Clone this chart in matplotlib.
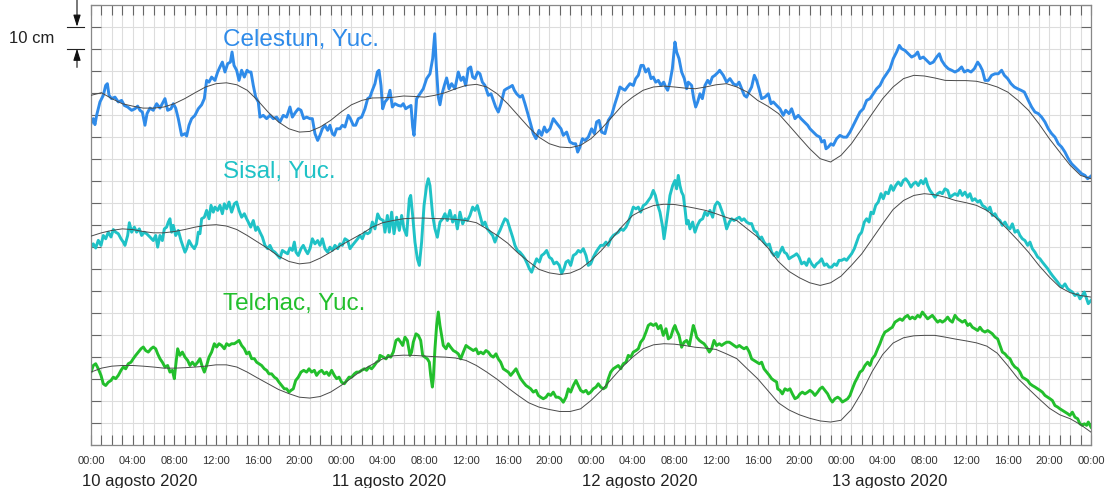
import numpy as np
import matplotlib
matplotlib.use("Agg")
import matplotlib.pyplot as plt
from matplotlib.ticker import MultipleLocator, FixedLocator, NullFormatter
import matplotlib.transforms as mtransforms

plt.rcParams['font.family'] = ['Liberation Sans', 'DejaVu Sans']

# ---------------- data ----------------
time_labels = ["00:00", "04:00", "08:00", "12:00", "16:00", "20:00"] * 4 + ["00:00"]
date_labels = ["10 agosto 2020", "11 agosto 2020", "12 agosto 2020", "13 agosto 2020"]
station_names = ["Celestun, Yuc.", "Sisal, Yuc.", "Telchac, Yuc."]

# observed sea level (hour since 10 Aug 00:00, cm on arbitrary stacked offset)
celestun_obs = [
    (0.0, 145.9), (0.22, 148.2), (0.38, 145.5), (0.54, 149.7), (0.86, 155.8), (1.18, 158.8),
    (1.41, 163.3), (1.57, 164.1), (1.73, 158.8), (1.98, 157.3), (2.30, 158.0), (2.62, 155.8),
    (2.94, 156.5), (3.2, 154.2), (3.52, 153.5), (3.90, 152.0), (4.22, 152.7), (4.48, 153.9),
    (4.70, 152.0), (4.93, 151.2), (5.18, 145.2), (5.38, 150.5), (5.66, 153.0), (5.98, 152.0),
    (6.30, 155.0), (6.62, 153.0), (6.94, 155.8), (7.10, 157.3), (7.36, 152.0), (7.68, 152.7),
    (7.90, 155.0), (8.13, 153.0), (8.38, 148.2), (8.70, 140.6), (9.02, 141.4), (9.18, 140.3),
    (9.41, 145.2), (9.66, 148.2), (9.98, 149.7), (10.30, 152.7), (10.62, 154.5), (10.88, 157.3),
    (11.10, 165.6), (11.33, 164.8), (11.58, 167.1), (11.90, 165.6), (12.16, 169.4), (12.38, 171.7),
    (12.61, 173.9), (12.86, 169.4), (13.12, 173.2), (13.38, 173.9), (13.54, 178.5), (13.73, 172.4),
    (13.98, 170.2), (14.21, 165.6), (14.46, 170.2), (14.72, 167.1), (14.98, 170.2), (15.17, 169.4),
    (15.36, 169.4), (15.58, 163.3), (15.81, 158.0), (16.06, 155.8), (16.22, 148.9), (16.54, 149.7),
    (16.86, 148.2), (17.18, 149.7), (17.50, 148.2), (17.82, 148.9), (18.14, 146.7), (18.46, 149.7),
    (18.78, 148.9), (19.10, 153.5), (19.33, 148.9), (19.65, 151.2), (19.90, 152.7), (20.16, 152.0),
    (20.42, 148.2), (20.70, 148.9), (21.02, 148.2), (21.25, 148.2), (21.50, 141.4), (21.76, 138.3),
    (21.98, 140.6), (22.21, 143.6), (22.46, 145.2), (22.72, 142.9), (22.94, 145.2), (23.17, 141.4),
    (23.36, 140.6), (23.58, 143.6), (23.90, 143.6), (24.13, 145.2), (24.38, 144.4), (24.70, 149.7),
    (24.90, 148.2), (25.18, 145.2), (25.41, 145.2), (25.66, 148.2), (25.98, 148.9), (26.30, 152.7),
    (26.56, 157.3), (26.78, 158.0), (27.01, 161.1), (27.26, 164.1), (27.49, 169.4), (27.65, 170.2),
    (27.84, 163.3), (28.0, 152.7), (28.22, 155.8), (28.48, 157.3), (28.70, 161.1), (28.93, 153.5),
    (29.18, 155.0), (29.50, 154.2), (29.76, 153.9), (29.98, 155.0), (30.21, 152.7), (30.46, 153.5),
    (30.72, 154.2), (30.88, 144.4), (31.01, 140.6), (31.26, 157.3), (31.58, 159.5), (31.9, 161.8),
    (32.22, 166.4), (32.54, 168.6), (32.8, 175.5), (33.0, 186.8), (33.15, 172.0), (33.34, 158.0),
    (33.5, 154.5), (33.66, 158.8), (33.92, 163.3), (34.14, 166.7), (34.37, 161.8), (34.62, 164.1),
    (34.94, 161.8), (35.26, 169.4), (35.52, 165.6), (35.74, 167.1), (35.97, 163.3), (36.22, 170.9),
    (36.45, 171.7), (36.64, 167.1), (36.86, 166.4), (37.12, 169.4), (37.34, 168.6), (37.57, 164.8),
    (37.82, 163.3), (38.14, 158.8), (38.40, 159.5), (38.62, 156.5), (38.85, 153.5), (39.10, 151.2),
    (39.36, 155.0), (39.68, 161.1), (39.90, 161.8), (40.22, 162.6), (40.45, 163.3), (40.64, 161.1),
    (40.86, 159.5), (41.18, 158.0), (41.41, 158.8), (41.66, 155.0), (41.98, 149.7), (42.24, 145.2),
    (42.46, 141.4), (42.72, 139.1), (43.01, 142.9), (43.26, 140.6), (43.52, 144.4), (43.74, 142.1),
    (44.06, 143.6), (44.38, 148.2), (44.61, 146.7), (44.86, 145.2), (45.12, 143.6), (45.34, 140.6),
    (45.66, 142.1), (45.98, 137.6), (46.30, 136.8), (46.53, 136.8), (46.72, 133.0), (46.94, 135.3),
    (47.17, 139.1), (47.42, 138.3), (47.74, 139.8), (48.06, 143.6), (48.32, 141.4), (48.54, 146.7),
    (48.77, 147.4), (49.02, 142.1), (49.34, 141.4), (49.66, 147.4), (49.98, 149.7), (50.30, 155.0),
    (50.56, 158.8), (50.78, 162.6), (51.01, 161.8), (51.26, 161.1), (51.49, 162.6), (51.74, 164.1),
    (52.06, 163.3), (52.29, 166.4), (52.54, 167.9), (52.80, 172.4), (53.02, 172.4), (53.25, 169.4),
    (53.50, 170.9), (53.76, 166.4), (53.98, 167.1), (54.21, 164.8), (54.46, 165.6), (54.72, 163.3),
    (54.98, 164.8), (55.17, 162.6), (55.36, 161.1), (55.58, 164.8), (55.81, 170.9), (55.94, 177.0),
    (56.06, 183.0), (56.22, 178.5), (56.45, 175.5), (56.70, 169.4), (56.96, 166.4), (57.18, 161.8),
    (57.34, 164.8), (57.66, 163.3), (57.86, 157.3), (58.05, 153.5), (58.24, 155.8), (58.46, 159.5),
    (58.69, 157.3), (58.94, 163.3), (59.20, 165.6), (59.42, 164.1), (59.65, 167.1), (59.90, 167.9),
    (60.22, 169.4), (60.35, 170.2), (60.70, 167.9), (61.02, 164.8), (61.34, 166.4), (61.66, 164.1),
    (61.98, 163.3), (62.21, 164.8), (62.46, 161.8), (62.72, 158.8), (62.94, 158.0), (63.17, 160.3),
    (63.42, 162.6), (63.68, 167.9), (63.90, 165.6), (64.13, 161.8), (64.38, 157.3), (64.70, 158.0),
    (65.02, 159.5), (65.28, 155.0), (65.50, 155.8), (65.82, 154.2), (66.14, 152.7), (66.46, 149.7),
    (66.69, 152.0), (67.01, 150.5), (67.26, 152.7), (67.58, 148.2), (67.90, 149.7), (68.16, 148.2),
    (68.48, 146.7), (68.80, 145.2), (69.02, 143.6), (69.34, 142.1), (69.66, 140.6), (69.98, 139.8),
    (70.14, 137.6), (70.40, 138.3), (70.56, 134.5), (70.78, 135.3), (71.04, 136.8), (71.26, 136.1),
    (71.58, 139.1), (71.90, 140.6), (72.22, 139.8), (72.54, 139.8), (72.86, 142.1), (73.18, 145.2),
    (73.50, 148.2), (73.82, 151.2), (74.14, 152.7), (74.46, 156.5), (74.78, 157.3), (75.10, 159.5),
    (75.42, 161.8), (75.74, 163.3), (76.06, 166.4), (76.38, 168.6), (76.70, 170.9), (77.02, 175.5),
    (77.34, 178.5), (77.60, 181.5), (77.82, 180.0), (78.14, 179.2), (78.46, 177.7), (78.78, 176.2),
    (79.10, 177.0), (79.36, 178.5), (79.58, 175.5), (79.90, 176.2), (80.22, 174.7), (80.54, 173.2),
    (80.86, 173.9), (81.18, 176.2), (81.44, 177.7), (81.66, 174.7), (81.98, 172.4), (82.30, 170.9),
    (82.62, 170.2), (82.94, 169.4), (83.26, 170.2), (83.58, 171.7), (83.84, 169.4), (84.16, 170.2),
    (84.48, 169.4), (84.80, 170.9), (85.12, 173.9), (85.34, 172.4), (85.57, 170.2), (85.82, 165.6),
    (86.14, 165.6), (86.46, 167.9), (86.78, 168.6), (87.10, 168.6), (87.42, 170.2), (87.68, 167.9),
    (88.0, 166.4), (88.32, 164.1), (88.64, 162.6), (88.96, 161.8), (89.28, 161.1), (89.60, 160.3),
    (89.98, 156.5), (90.30, 153.5), (90.62, 151.2), (90.94, 150.5), (91.26, 148.9), (91.58, 146.7),
    (91.90, 143.6), (92.22, 141.4), (92.54, 139.8), (92.86, 136.8), (93.18, 135.3), (93.50, 133.0),
    (93.82, 130.0), (94.14, 127.7), (94.46, 126.2), (94.78, 124.7), (95.10, 123.2), (95.42, 122.4),
    (95.68, 120.9), (96.0, 122.1),
]

sisal_obs = [
    (0.0, 89.8), (0.22, 91.3), (0.45, 89.4), (0.70, 92.9), (0.96, 90.6), (1.18, 95.1), (1.41, 93.6),
    (1.66, 96.6), (1.92, 94.4), (2.14, 97.8), (2.37, 96.6), (2.62, 95.9), (2.88, 93.6), (3.10, 92.1),
    (3.26, 90.6), (3.52, 95.1), (3.68, 100.9), (3.90, 96.6), (4.16, 98.9), (4.38, 96.6), (4.64, 98.1),
    (4.86, 95.1), (5.12, 96.6), (5.34, 95.9), (5.66, 94.4), (5.98, 92.8), (6.21, 95.1), (6.40, 89.8),
    (6.62, 95.1), (6.85, 92.8), (7.04, 98.1), (7.26, 98.9), (7.42, 101.2), (7.58, 102.7), (7.74, 96.6),
    (7.90, 99.7), (8.13, 95.1), (8.38, 97.4), (8.64, 92.8), (8.86, 89.8), (9.02, 87.5), (9.18, 89.1),
    (9.41, 92.8), (9.66, 90.6), (9.92, 89.1), (10.14, 91.3), (10.30, 96.6), (10.46, 95.9), (10.62, 102.7),
    (10.88, 103.4), (11.10, 106.5), (11.33, 102.7), (11.52, 108.8), (11.74, 105.7), (11.90, 108.0),
    (12.16, 106.5), (12.38, 108.8), (12.61, 105.0), (12.80, 109.5), (13.02, 107.2), (13.25, 110.3),
    (13.50, 105.7), (13.76, 109.5), (13.98, 110.3), (14.21, 106.5), (14.46, 103.4), (14.72, 105.0),
    (14.94, 102.7), (15.10, 101.2), (15.33, 98.9), (15.58, 101.9), (15.81, 97.4), (16.0, 98.9),
    (16.22, 96.6), (16.45, 94.4), (16.70, 90.6), (16.96, 89.1), (17.18, 90.6), (17.41, 88.3),
    (17.66, 87.5), (17.92, 86.0), (18.14, 84.8), (18.37, 88.3), (18.62, 87.5), (18.88, 86.8),
    (19.10, 89.4), (19.33, 88.3), (19.52, 92.1), (19.68, 87.5), (19.90, 86.0), (20.16, 89.1),
    (20.38, 90.6), (20.61, 88.3), (20.80, 86.8), (21.02, 89.1), (21.25, 93.6), (21.50, 91.3),
    (21.76, 92.8), (21.98, 90.6), (22.21, 93.6), (22.46, 89.1), (22.72, 87.5), (22.94, 89.8),
    (23.17, 88.3), (23.42, 90.6), (23.68, 89.1), (23.90, 91.3), (24.13, 90.6), (24.38, 93.6),
    (24.64, 92.8), (24.86, 89.1), (25.09, 90.6), (25.34, 92.1), (25.60, 93.6), (25.82, 95.1),
    (26.05, 93.6), (26.30, 96.6), (26.56, 95.9), (26.78, 96.6), (27.01, 101.2), (27.26, 98.1),
    (27.52, 104.9), (27.74, 102.7), (28.06, 101.9), (28.22, 96.6), (28.45, 104.2), (28.64, 96.6),
    (28.86, 105.7), (29.09, 95.9), (29.34, 103.4), (29.6, 97.4), (29.82, 104.2), (30.05, 98.1),
    (30.3, 95.1), (30.56, 111.8), (30.69, 113.3), (30.88, 104.2), (31.1, 92.1), (31.33, 84.5),
    (31.52, 81.5), (31.74, 92.1), (31.97, 108.7), (32.22, 117.8), (32.38, 120.9), (32.54, 117.8),
    (32.8, 104.2), (33.02, 98.1), (33.25, 94.3), (33.5, 101.2), (33.76, 102.7), (33.98, 105.0),
    (34.21, 101.9), (34.46, 106.5), (34.72, 101.2), (34.94, 104.2), (35.17, 98.1), (35.42, 105.7),
    (35.68, 100.4), (35.9, 102.7), (36.13, 101.9), (36.38, 104.2), (36.64, 108.0), (36.86, 106.5),
    (37.09, 108.7), (37.34, 104.2), (37.6, 99.7), (37.82, 101.2), (38.05, 98.1), (38.3, 96.6),
    (38.56, 95.1), (38.78, 92.1), (39.01, 95.1), (39.26, 97.4), (39.52, 100.4), (39.74, 102.7),
    (39.97, 101.9), (40.22, 98.1), (40.48, 94.3), (40.70, 90.6), (40.93, 88.3), (41.18, 87.5),
    (41.44, 86.0), (41.66, 84.5), (41.89, 82.2), (42.08, 80.0), (42.30, 78.4), (42.53, 81.5),
    (42.78, 84.5), (43.04, 83.0), (43.26, 86.0), (43.49, 86.8), (43.74, 88.3), (44.0, 85.2),
    (44.22, 84.5), (44.45, 82.2), (44.70, 83.0), (44.96, 81.5), (45.18, 77.8), (45.41, 80.0),
    (45.60, 83.0), (45.82, 83.7), (46.05, 81.5), (46.30, 86.0), (46.56, 86.8), (46.78, 88.3),
    (47.01, 87.5), (47.26, 89.1), (47.52, 86.0), (47.74, 81.5), (47.97, 82.2), (48.22, 85.2),
    (48.48, 87.5), (48.70, 89.1), (48.93, 90.6), (49.18, 90.6), (49.44, 92.1), (49.66, 90.6),
    (49.89, 93.6), (50.14, 95.1), (50.40, 95.9), (50.62, 96.6), (50.85, 98.1), (51.10, 97.4),
    (51.36, 98.9), (51.58, 101.2), (51.81, 104.2), (52.06, 108.0), (52.32, 107.2), (52.54, 108.0),
    (52.77, 105.7), (53.02, 108.7), (53.28, 109.5), (53.50, 111.0), (53.73, 112.5), (53.98, 115.6),
    (54.18, 113.3), (54.37, 109.5), (54.62, 105.7), (54.88, 98.9), (55.01, 93.6), (55.2, 99.7),
    (55.42, 107.3), (55.58, 113.3), (55.84, 117.8), (56.06, 120.1), (56.22, 116.3), (56.38, 122.4),
    (56.54, 117.8), (56.70, 114.8), (56.86, 113.3), (57.02, 107.3), (57.18, 100.4), (57.34, 101.9),
    (57.50, 98.1), (57.76, 101.2), (57.98, 96.6), (58.21, 99.7), (58.46, 101.9), (58.72, 102.7),
    (58.94, 105.7), (59.17, 104.2), (59.42, 106.5), (59.68, 103.4), (59.90, 108.7), (60.13, 110.3),
    (60.32, 109.5), (60.54, 106.5), (60.77, 103.4), (61.02, 98.1), (61.28, 101.2), (61.50, 102.7),
    (61.73, 101.9), (61.98, 102.7), (62.24, 103.4), (62.46, 101.9), (62.69, 102.7), (62.94, 101.2),
    (63.2, 100.5), (63.42, 100.5), (63.65, 97.4), (63.9, 96.6), (64.16, 93.6), (64.38, 94.4),
    (64.61, 92.1), (64.86, 90.6), (65.12, 91.2), (65.34, 87.5), (65.57, 86.0), (65.82, 87.5),
    (65.92, 85.3), (66.14, 87.5), (66.37, 89.8), (66.56, 87.5), (66.78, 86.8), (67.01, 84.5),
    (67.26, 85.3), (67.52, 86.0), (67.74, 86.8), (67.97, 85.3), (68.22, 82.2), (68.48, 83.0),
    (68.70, 81.5), (68.93, 84.5), (69.18, 82.2), (69.44, 80.7), (69.66, 82.2), (69.89, 83.0),
    (70.14, 84.5), (70.40, 81.5), (70.62, 82.2), (70.85, 80.7), (71.10, 80.7), (71.36, 82.2),
    (71.58, 81.5), (71.81, 83.8), (72.06, 83.8), (72.32, 84.5), (72.54, 83.8), (72.77, 85.3),
    (73.02, 86.8), (73.28, 89.1), (73.50, 92.1), (73.73, 95.1), (73.98, 96.6), (74.24, 101.2),
    (74.46, 102.7), (74.69, 101.2), (74.88, 105.7), (75.10, 105.0), (75.33, 108.8), (75.58, 110.3),
    (75.84, 114.1), (76.06, 111.8), (76.29, 114.8), (76.54, 114.1), (76.80, 117.8), (77.02, 115.6),
    (77.25, 117.8), (77.50, 119.4), (77.76, 117.8), (77.98, 120.1), (78.21, 120.9), (78.46, 119.4),
    (78.72, 117.1), (78.94, 118.6), (79.17, 119.4), (79.42, 117.8), (79.68, 120.1), (79.90, 118.6),
    (80.13, 120.9), (80.32, 117.8), (80.54, 115.6), (80.77, 114.1), (81.02, 112.5), (81.28, 114.1),
    (81.50, 114.8), (81.73, 114.1), (81.98, 116.3), (82.24, 115.6), (82.46, 112.5), (82.69, 113.3),
    (82.94, 114.1), (83.20, 113.3), (83.42, 115.6), (83.65, 113.3), (83.90, 114.8), (84.16, 112.5),
    (84.38, 114.1), (84.61, 111.0), (84.86, 111.8), (85.12, 110.3), (85.34, 111.0), (85.57, 108.8),
    (85.82, 108.0), (86.08, 106.5), (86.30, 108.0), (86.53, 104.2), (86.78, 105.0), (87.04, 102.7),
    (87.26, 101.9), (87.49, 99.7), (87.74, 101.2), (88.0, 98.9), (88.22, 98.1), (88.45, 100.4),
    (88.70, 96.6), (88.96, 97.4), (89.18, 95.1), (89.41, 93.6), (89.66, 92.8), (89.92, 90.6),
    (90.14, 92.1), (90.37, 89.1), (90.62, 87.5), (90.88, 85.3), (91.10, 84.5), (91.33, 83.0),
    (91.58, 81.5), (91.84, 80.0), (92.06, 78.4), (92.29, 76.9), (92.54, 75.4), (92.80, 73.9),
    (93.02, 72.4), (93.25, 71.6), (93.50, 73.1), (93.76, 70.9), (93.98, 70.1), (94.21, 69.4),
    (94.46, 67.8), (94.72, 68.6), (94.94, 66.3), (95.17, 67.8), (95.36, 69.4), (95.58, 66.3),
    (95.74, 64.1), (96.0, 65.6),
]

telchac_obs = [
    (0.0, 33.0), (0.22, 36.0), (0.45, 36.8), (0.70, 34.5), (0.96, 31.5), (1.18, 27.7), (1.41, 26.9),
    (1.66, 28.4), (1.92, 29.2), (2.14, 30.7), (2.37, 30.0), (2.62, 31.5), (2.88, 33.8), (3.10, 35.3),
    (3.33, 34.5), (3.58, 36.8), (3.84, 37.5), (4.06, 39.1), (4.29, 40.6), (4.54, 42.1), (4.80, 43.6),
    (5.02, 44.4), (5.25, 42.8), (5.50, 42.1), (5.76, 43.6), (5.98, 44.4), (6.21, 43.6), (6.40, 41.3),
    (6.62, 39.1), (6.85, 37.5), (7.10, 35.3), (7.36, 36.0), (7.58, 33.0), (7.81, 33.8), (8.0, 30.0),
    (8.13, 36.0), (8.32, 43.6), (8.54, 40.6), (8.77, 42.1), (9.02, 39.8), (9.28, 38.3), (9.50, 36.0),
    (9.73, 37.5), (9.98, 36.0), (10.24, 37.5), (10.46, 39.1), (10.69, 35.3), (10.88, 33.0),
    (11.10, 36.0), (11.33, 39.8), (11.58, 42.1), (11.84, 45.9), (12.06, 44.4), (12.29, 45.9),
    (12.54, 45.1), (12.80, 43.6), (13.02, 45.9), (13.25, 45.1), (13.50, 45.9), (13.76, 45.9),
    (13.98, 46.6), (14.21, 47.4), (14.46, 45.1), (14.72, 43.6), (14.94, 41.3), (15.17, 42.1),
    (15.42, 39.1), (15.68, 39.1), (15.90, 37.5), (16.13, 36.8), (16.38, 36.0), (16.64, 34.5),
    (16.86, 33.8), (17.09, 32.2), (17.34, 32.2), (17.60, 30.7), (17.82, 30.0), (18.05, 28.4),
    (18.30, 26.9), (18.56, 25.4), (18.78, 25.4), (19.01, 23.9), (19.20, 24.7), (19.42, 25.4),
    (19.65, 29.2), (19.90, 30.7), (20.16, 33.0), (20.42, 33.8), (20.70, 33.0), (20.93, 34.5),
    (21.18, 33.0), (21.44, 33.8), (21.66, 31.5), (21.89, 33.0), (22.14, 33.8), (22.40, 32.2),
    (22.62, 33.0), (22.85, 31.5), (23.10, 33.8), (23.36, 31.5), (23.58, 30.0), (23.81, 30.7),
    (24.06, 28.4), (24.32, 27.7), (24.54, 29.2), (24.77, 30.7), (25.02, 30.7), (25.28, 32.2),
    (25.50, 33.0), (25.73, 33.0), (25.98, 33.8), (26.24, 34.5), (26.46, 33.8), (26.69, 35.3),
    (26.94, 34.5), (27.20, 36.0), (27.42, 37.5), (27.65, 38.3), (27.74, 40.6), (28.06, 39.8),
    (28.32, 39.0), (28.54, 40.6), (28.77, 39.8), (29.02, 42.1), (29.28, 47.4), (29.50, 48.1),
    (29.73, 46.6), (29.92, 45.1), (30.14, 48.9), (30.37, 47.4), (30.62, 40.6), (30.78, 42.1),
    (30.94, 46.6), (31.20, 50.4), (31.42, 49.7), (31.65, 47.4), (31.84, 40.6), (32.06, 39.8),
    (32.29, 39.0), (32.48, 37.5), (32.61, 31.5), (32.77, 26.2), (32.86, 30.0), (33.02, 43.6),
    (33.18, 54.2), (33.34, 60.3), (33.50, 54.2), (33.66, 49.7), (33.82, 45.1), (34.08, 43.6),
    (34.30, 45.9), (34.53, 44.3), (34.78, 42.8), (35.04, 42.1), (35.26, 41.3), (35.49, 39.0),
    (35.74, 42.1), (36.0, 45.1), (36.22, 44.3), (36.45, 43.6), (36.70, 42.8), (36.96, 43.6),
    (37.18, 41.3), (37.41, 42.1), (37.66, 41.3), (37.92, 42.8), (38.14, 42.1), (38.37, 40.6),
    (38.62, 39.8), (38.88, 41.3), (39.10, 39.0), (39.33, 37.5), (39.58, 34.5), (39.84, 33.7),
    (40.06, 33.0), (40.29, 31.5), (40.54, 33.0), (40.80, 34.5), (41.02, 32.2), (41.25, 30.0),
    (41.50, 28.4), (41.76, 26.9), (41.98, 26.2), (42.21, 25.4), (42.46, 23.9), (42.72, 24.7),
    (42.94, 22.4), (43.17, 21.6), (43.42, 20.9), (43.68, 21.6), (43.90, 23.1), (44.13, 22.4),
    (44.38, 23.9), (44.64, 21.6), (44.86, 21.6), (45.09, 20.9), (45.34, 19.3), (45.60, 21.6),
    (45.82, 25.4), (46.05, 23.9), (46.30, 26.9), (46.56, 29.2), (46.78, 26.9), (47.01, 24.7),
    (47.26, 23.9), (47.52, 24.7), (47.74, 23.1), (47.97, 23.9), (48.22, 25.4), (48.48, 26.2),
    (48.70, 27.7), (48.93, 26.2), (49.18, 25.4), (49.44, 26.2), (49.66, 30.0), (49.89, 33.0),
    (50.14, 34.5), (50.40, 35.3), (50.62, 36.0), (50.85, 34.5), (51.10, 36.8), (51.36, 37.5),
    (51.58, 40.6), (51.81, 39.8), (52.06, 42.1), (52.32, 42.8), (52.54, 43.6), (52.77, 46.6),
    (53.02, 48.1), (53.28, 51.2), (53.50, 54.2), (53.73, 55.0), (53.98, 54.2), (54.24, 55.0),
    (54.46, 52.7), (54.69, 54.2), (54.94, 49.7), (55.20, 52.7), (55.42, 48.1), (55.65, 48.9),
    (55.90, 52.7), (56.06, 54.2), (56.22, 52.0), (56.45, 49.7), (56.70, 44.3), (56.93, 46.6),
    (57.18, 47.4), (57.44, 45.1), (57.66, 50.4), (57.82, 54.2), (57.98, 52.0), (58.14, 48.9),
    (58.40, 47.4), (58.62, 46.6), (58.85, 45.9), (59.10, 44.3), (59.36, 42.1), (59.58, 43.6),
    (59.81, 47.4), (60.06, 45.1), (60.32, 45.9), (60.54, 45.1), (60.77, 45.9), (61.02, 46.6),
    (61.28, 46.6), (61.50, 45.9), (61.73, 45.1), (61.98, 44.3), (62.24, 45.1), (62.46, 44.3),
    (62.69, 43.6), (62.94, 44.3), (63.20, 42.1), (63.42, 39.0), (63.65, 38.3), (63.90, 37.5),
    (64.16, 36.8), (64.38, 37.5), (64.61, 34.5), (64.86, 33.0), (65.12, 31.5), (65.34, 30.0),
    (65.57, 29.2), (65.82, 28.5), (65.92, 25.4), (66.14, 24.7), (66.37, 23.1), (66.62, 25.4),
    (66.88, 24.7), (67.10, 25.4), (67.33, 23.1), (67.58, 20.9), (67.84, 21.6), (68.06, 23.1),
    (68.29, 23.9), (68.54, 23.1), (68.80, 23.9), (69.02, 24.7), (69.25, 23.9), (69.50, 22.4),
    (69.76, 23.9), (69.98, 25.4), (70.21, 26.2), (70.46, 24.7), (70.72, 23.1), (70.94, 20.9),
    (71.17, 19.4), (71.42, 20.9), (71.68, 21.6), (71.90, 20.9), (72.13, 19.4), (72.38, 20.1),
    (72.64, 20.9), (72.86, 22.4), (73.09, 25.4), (73.34, 28.4), (73.60, 30.7), (73.82, 33.0),
    (74.05, 33.8), (74.30, 36.0), (74.56, 37.5), (74.78, 36.0), (75.01, 39.1), (75.26, 40.6),
    (75.52, 43.6), (75.74, 45.9), (75.97, 48.9), (76.22, 51.2), (76.48, 51.9), (76.70, 52.7),
    (76.93, 53.4), (77.18, 55.7), (77.44, 56.5), (77.66, 57.2), (77.89, 56.5), (78.14, 58.0),
    (78.40, 58.8), (78.62, 57.2), (78.85, 58.0), (79.10, 57.2), (79.36, 58.8), (79.58, 58.0),
    (79.81, 60.3), (80.06, 58.8), (80.32, 57.2), (80.54, 58.0), (80.77, 58.8), (81.02, 57.2),
    (81.28, 55.7), (81.50, 56.5), (81.73, 55.7), (81.98, 56.5), (82.24, 58.0), (82.46, 56.5),
    (82.69, 55.7), (82.94, 58.8), (83.20, 57.2), (83.42, 56.5), (83.65, 55.7), (83.90, 56.5),
    (84.16, 54.2), (84.38, 55.0), (84.61, 53.4), (84.86, 52.7), (85.12, 51.9), (85.34, 53.4),
    (85.57, 51.9), (85.82, 51.2), (86.08, 51.9), (86.30, 51.2), (86.53, 50.4), (86.78, 48.9),
    (87.04, 48.1), (87.26, 45.1), (87.49, 42.1), (87.74, 41.3), (88.0, 39.8), (88.22, 39.1),
    (88.45, 36.8), (88.70, 35.3), (88.96, 34.5), (89.18, 33.0), (89.41, 30.7), (89.66, 30.0),
    (89.92, 29.2), (90.14, 27.7), (90.37, 26.9), (90.62, 26.2), (90.88, 25.4), (91.10, 24.7),
    (91.33, 23.9), (91.58, 22.4), (91.84, 21.6), (92.06, 20.9), (92.29, 20.1), (92.54, 17.8),
    (92.80, 17.1), (93.02, 16.3), (93.25, 15.6), (93.50, 14.8), (93.76, 14.1), (93.98, 13.3),
    (94.21, 14.8), (94.46, 12.5), (94.72, 11.8), (94.94, 9.5), (95.17, 8.8), (95.36, 9.5),
    (95.58, 8.8), (95.74, 10.3), (96.0, 8.0),
]

# predicted tide, one value per hour (0 .. 96)
celestun_pred = [
    158.8, 160.0, 157.3, 155.0, 153.9, 153.0, 153.0, 153.5, 155.0, 157.3, 160.0, 162.6, 164.1,
    164.5, 163.6, 161.1, 156.5, 151.2, 146.7, 143.6, 142.1, 142.4, 144.4, 147.4, 151.2, 154.5,
    156.5, 157.6, 157.7, 157.9, 158.5, 158.3, 158.0,
    158.8, 160.0, 161.8, 163.3, 163.8, 162.6, 159.5, 155.0, 149.7, 144.4, 139.8, 136.8, 135.3,
    135.0, 136.1, 139.1, 143.6, 148.9, 154.2, 158.0, 161.1, 162.6, 163.0, 162.6, 162.1, 161.8,
    162.6, 163.6, 164.1, 162.6, 160.3, 156.5,
    153.8, 150.5, 145.2, 139.8, 134.5, 130.0, 128.5, 131.5, 136.8, 143.6, 150.5, 157.3, 162.6,
    166.4, 167.9, 167.6, 166.7, 165.6, 165.5, 165.5, 165.2, 164.1, 162.6, 160.3, 156.5, 152.0,
    145.9, 139.1, 133.0, 127.0, 122.4, 120.9,
]
sisal_pred = [
    94.8, 96.3, 97.4, 98.1, 97.8, 96.9, 96.3, 96.3, 96.9, 97.8, 98.9, 99.7, 100.0, 99.4, 97.8,
    95.1, 92.1, 89.1, 85.7, 83.3, 82.2, 82.7, 84.8, 87.5, 90.6, 93.3, 95.9, 98.9, 100.9, 101.9,
    102.7, 103.0, 103.0,
    102.8, 102.7, 102.4, 101.9, 100.9, 98.1, 95.1, 91.6, 87.1, 83.3, 79.7, 78.1, 77.4, 78.0,
    80.0, 83.7, 88.3, 93.6, 99.3, 104.2, 106.8, 108.7, 109.3, 109.2, 108.4, 107.5, 106.5, 105.0,
    103.3, 101.9, 98.1, 94.4,
    89.4, 83.2, 78.8, 75.9, 73.6, 72.4, 73.6, 76.6, 81.5, 86.8, 93.6, 100.4, 106.9, 111.0, 113.3,
    114.1, 113.6, 112.5, 111.0, 110.0, 108.8, 106.5, 102.7, 97.8, 92.8, 87.5, 81.5, 76.2, 71.6,
    69.1, 67.8, 67.1,
]
telchac_pred = [
    33.0, 34.8, 35.7, 36.0, 36.0, 35.7, 35.3, 34.8, 34.8, 35.0, 35.3, 35.7, 36.3, 36.3, 35.3,
    33.0, 30.3, 27.7, 25.1, 23.2, 21.6, 21.2, 21.9, 23.9, 26.9, 30.3, 33.8, 36.5, 39.0, 40.4,
    40.7, 40.6, 40.3,
    40.0, 39.8, 39.4, 38.3, 36.0, 33.0, 29.7, 25.9, 22.4, 19.1, 17.1, 16.0, 15.1, 15.1, 16.3,
    20.1, 24.7, 30.0, 35.3, 39.8, 43.6, 45.4, 45.9, 45.7, 45.1, 44.3, 43.9, 43.3, 41.3, 39.1,
    34.5, 30.0,
    24.5, 19.0, 15.8, 13.6, 12.0, 10.8, 10.3, 11.1, 16.0, 23.9, 33.3, 41.0, 46.2, 48.6, 49.5,
    49.7, 49.7, 48.9, 48.0, 47.2, 46.3, 44.8, 41.6, 36.0, 30.0, 25.4, 20.9, 16.6, 13.6, 11.8,
    9.1, 5.7,
]

# ---------------- style ----------------
colors = ["#2F8BE9", "#1FC2C6", "#22BF2C"]
W, H = 1110, 489
fig = plt.figure(figsize=(W / 100, H / 100), dpi=100)
ax = fig.add_axes([91 / W, (H - 445.7) / H, 1000 / W, 440 / H])

observed = [celestun_obs, sisal_obs, telchac_obs]
predicted = [celestun_pred, sisal_pred, telchac_pred]
pred_hours = np.arange(len(celestun_pred))

for obs, pred, col in zip(observed, predicted, colors):
    ax.plot(pred_hours, pred, color="#4a4a4a", lw=0.7, zorder=3)
    t = [p[0] for p in obs]
    v = [p[1] for p in obs]
    ax.plot(t, v, color=col, lw=2.1, zorder=2, solid_joinstyle="round")

ax.set_xlim(0, 96)
ax.set_ylim(0, 200)
ax.xaxis.set_major_locator(FixedLocator(np.arange(0, 97, 4)))
ax.xaxis.set_minor_locator(MultipleLocator(1))
ax.set_xticklabels(time_labels)
ax.yaxis.set_major_locator(MultipleLocator(10))
ax.yaxis.set_major_formatter(NullFormatter())

ax.grid(which="major", axis="y", color="#dddddd", lw=0.8)
ax.grid(which="both", axis="x", color="#dddddd", lw=0.8)
ax.set_axisbelow(True)

ax.tick_params(which="both", direction="in", length=7.2, width=0.8, color="#666666",
               top=True, right=True, bottom=True, left=True)
ax.tick_params(axis="x", which="major", labelsize=8.0, labelcolor="#333333", pad=7.5)
for s in ax.spines.values():
    s.set_color("#888888")
    s.set_linewidth(0.9)

# station names
name_y = [181.8, 121.7, 61.5]
for name, y, col in zip(station_names, name_y, colors):
    ax.text(12.67, y, name, color=col, fontsize=17.5, ha="left", va="baseline")

# date labels
tr_date = mtransforms.blended_transform_factory(ax.transData, fig.transFigure)
for i, d in enumerate(date_labels):
    ax.text(24 * i - 0.86, 3 / H, d, transform=tr_date, fontsize=12, color="#222222",
            ha="left", va="baseline", clip_on=False)

# 10 cm scale marker
tr_m = mtransforms.blended_transform_factory(fig.transFigure, ax.transData)
for yv in (190, 180):
    ax.plot([67 / W, 84 / W], [yv, yv], transform=tr_m, color="#222222", lw=0.8, clip_on=False)
ax.annotate("", xy=(77 / W, 190), xycoords=tr_m, xytext=(77 / W, 202.6), textcoords=tr_m,
            arrowprops=dict(arrowstyle="-|>,head_length=0.7,head_width=0.22", color="#111111",
                            lw=0.8, shrinkA=0, shrinkB=0), annotation_clip=False)
ax.annotate("", xy=(77 / W, 180), xycoords=tr_m, xytext=(77 / W, 171.5), textcoords=tr_m,
            arrowprops=dict(arrowstyle="-|>,head_length=0.7,head_width=0.22", color="#111111",
                            lw=0.8, shrinkA=0, shrinkB=0), annotation_clip=False)
ax.text(9 / W, 183.2, "10 cm", transform=tr_m, fontsize=12, color="#222222",
        ha="left", va="baseline", clip_on=False)

fig.savefig("out.png", dpi=100)
